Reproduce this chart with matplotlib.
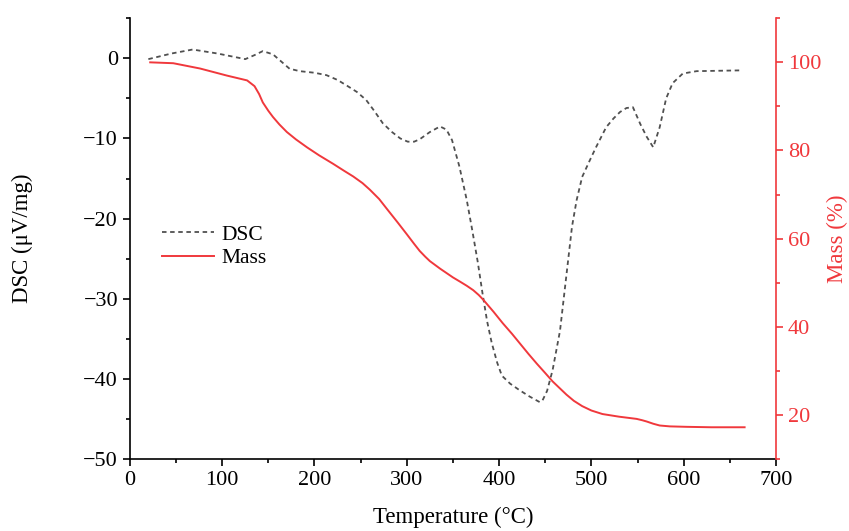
import numpy as np
import matplotlib.pyplot as plt
from matplotlib.ticker import MultipleLocator

plt.rcParams['font.family'] = ['Liberation Serif', 'DejaVu Serif']

# DSC curve
dsc_T = [20, 45, 68, 95, 125, 135, 144, 155, 173, 184, 200, 213, 225, 235, 246, 256, 265, 274, 284, 293, 301,
         308, 314, 325, 336, 343, 349, 357, 365, 371, 377, 382, 387, 392, 398, 403, 412, 422, 433, 444, 447,
         452, 458, 466, 474, 479, 484, 490, 498, 505, 516, 524, 531, 538, 545, 553, 560, 567, 574, 581, 588,
         599, 614, 663]
dsc_val = [-0.1, 0.6, 1.1, 0.6, -0.1, 0.4, 0.9, 0.5, -1.3, -1.6, -1.8, -2.1, -2.7, -3.4, -4.2, -5.2, -6.6, -8.1, -9.2, -10.0, -10.4,
           -10.4, -10.1, -9.2, -8.5, -8.9, -10.2, -13.5, -17.7, -21.5, -25.5, -29.3, -32.8, -35.5, -38.0, -39.6, -40.6, -41.4, -42.2, -42.9, -42.7,
           -41.5, -38.9, -34.0, -26.0, -21.0, -17.7, -14.8, -12.8, -11.1, -8.6, -7.5, -6.7, -6.2, -6.1, -8.2, -9.8, -11.1, -8.6, -5.0, -3.1,
           -1.9, -1.6, -1.5]

# Mass curve
mass_T = [22, 47, 76, 105, 127, 135, 140, 144, 150, 155, 162, 170, 180, 192, 205, 220, 232, 242, 252, 260, 270,
          279, 290, 300, 308, 314, 320, 325, 336, 350, 358, 365, 372, 378, 383, 394, 404, 414, 423, 432, 441,
          450, 458, 466, 473, 481, 490, 500, 512, 530, 549, 555, 560, 567, 574, 585, 603, 630, 666]
mass_val = [100, 99.8, 98.6, 97.0, 95.9, 94.6, 92.8, 90.9, 89.0, 87.6, 85.9, 84.2, 82.5, 80.7, 78.9, 77.0, 75.4, 74.1, 72.6, 71.1, 69.0,
            66.6, 63.7, 61.0, 58.8, 57.2, 55.9, 54.9, 53.2, 51.2, 50.2, 49.3, 48.3, 47.2, 46.1, 43.4, 40.8, 38.4, 36.1, 33.8, 31.6,
            29.5, 27.6, 26.0, 24.6, 23.2, 22.0, 21.0, 20.2, 19.6, 19.1, 18.8, 18.5, 18.0, 17.6, 17.4, 17.3, 17.2, 17.2]

red = '#f0383c'

fig = plt.figure(figsize=(8.49, 5.31), dpi=100)
ax = fig.add_axes([0.153, 0.1356, 0.761, 0.83])
ax2 = ax.twinx()

l1, = ax.plot(dsc_T, dsc_val, ls=(0, (2.5, 2)), color='#505050', lw=1.3, label='DSC')
l2, = ax2.plot(mass_T, mass_val, color=red, lw=1.4, label='Mass')

ax.set_xlim(0, 700)
ax.set_ylim(-50, 5)
ax2.set_ylim(10, 110)

ax.xaxis.set_major_locator(MultipleLocator(100))
ax.xaxis.set_minor_locator(MultipleLocator(50))
ax.yaxis.set_major_locator(MultipleLocator(10))
ax.yaxis.set_minor_locator(MultipleLocator(5))
ax2.yaxis.set_major_locator(MultipleLocator(20))
ax2.yaxis.set_minor_locator(MultipleLocator(10))

for a in (ax, ax2):
    a.spines['top'].set_visible(False)
ax.spines['right'].set_visible(False)
ax2.spines['left'].set_visible(False)
ax2.spines['bottom'].set_visible(False)
ax2.spines['right'].set_color(red)
ax.spines['left'].set_linewidth(1.2)
ax.spines['bottom'].set_linewidth(1.2)
ax2.spines['right'].set_linewidth(1.2)

ax.tick_params(axis='both', which='major', direction='out', length=5, width=1.2, labelsize=16)
ax.tick_params(axis='both', which='minor', direction='out', length=3, width=1.2)
ax2.tick_params(axis='y', which='major', direction='out', length=5, width=1.2, labelsize=16,
                colors=red)
ax2.tick_params(axis='y', which='minor', direction='out', length=3, width=1.2, colors=red)

ax.set_xlabel('Temperature (°C)', fontsize=16.5, labelpad=12)
ax.set_ylabel('DSC (μV/mg)', fontsize=16.5, labelpad=36)
ax2.set_ylabel('Mass (%)', fontsize=16.5, color=red, labelpad=4)

ax.legend(handles=[l1, l2], loc='upper left', bbox_to_anchor=(0.02, 0.575), frameon=False,
          fontsize=15.5, handlelength=2.4, labelspacing=0.15, handletextpad=0.35)

fig.savefig('out.png', dpi=100)
